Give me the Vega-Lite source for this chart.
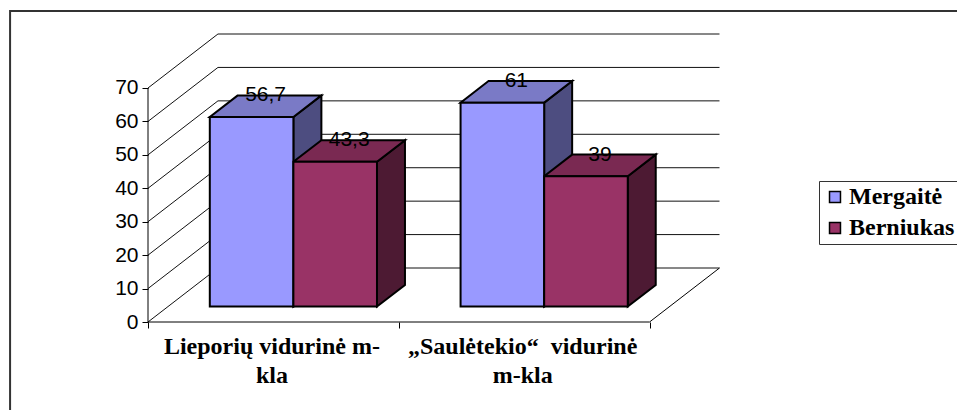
{"$schema":"https://vega.github.io/schema/vega-lite/v6.json","width":572,"height":288,"autosize":"none","padding":{"left":148,"right":237,"top":34,"bottom":88},"background":"white","config":{"view":{"stroke":null}},"datasets":{"bars":[{"school":"Lieporių vidurinė m-kla","gender":"Mergaitė","value":56.7},{"school":"Lieporių vidurinė m-kla","gender":"Berniukas","value":43.3},{"school":"„Saulėtekio“ vidurinė m-kla","gender":"Mergaitė","value":61},{"school":"„Saulėtekio“ vidurinė m-kla","gender":"Berniukas","value":39}],"ticks":[{"tick":0},{"tick":10},{"tick":20},{"tick":30},{"tick":40},{"tick":50},{"tick":60},{"tick":70}]},"data":{"name":"bars"},"transform":[{"calculate":"0.286","as":"near"},{"calculate":"0.686","as":"far"},{"fold":["near","far"],"as":["face","z"]},{"calculate":"(indexof(datum.school,'Lieporių')===0?0:1)+1/6+(datum.gender==='Mergaitė'?0:1)/3+datum.z*0.279","as":"x0"},{"calculate":"datum.x0+1/3","as":"x1"},{"calculate":"datum.z*16.15","as":"yb"},{"calculate":"datum.value+datum.z*16.15","as":"yt"},{"calculate":"datum.school+datum.gender","as":"bar"},{"calculate":"replace(''+datum.value,'.',',')","as":"label"}],"layer":[{"data":{"values":[{"frame":"outer"}]},"transform":[],"mark":{"type":"rect","fill":null,"stroke":"#333333","strokeWidth":2},"encoding":{"x":{"datum":-0.55,"type":"quantitative"},"x2":{"datum":3.3},"y":{"datum":93,"type":"quantitative"},"y2":{"datum":-30}}},{"data":{"name":"ticks"},"transform":[{"calculate":"0","as":"a"},{"calculate":"0.279","as":"b"},{"calculate":"2.279","as":"c"},{"calculate":"datum.tick+16.15","as":"back"}],"layer":[{"mark":{"type":"rule","color":"#111111","strokeWidth":1},"encoding":{"x":{"field":"a","type":"quantitative"},"x2":{"field":"b"},"y":{"field":"tick","type":"quantitative"},"y2":{"field":"back"}}},{"mark":{"type":"rule","color":"#111111","strokeWidth":1},"encoding":{"x":{"field":"b","type":"quantitative"},"x2":{"field":"c"},"y":{"field":"back","type":"quantitative"}}}]},{"data":{"values":[{"edge":"floor"}]},"transform":[],"layer":[{"mark":{"type":"rule","color":"black","strokeWidth":1},"encoding":{"x":{"datum":2,"type":"quantitative"},"x2":{"datum":2.279},"y":{"datum":0,"type":"quantitative"},"y2":{"datum":16.15}}},{"mark":{"type":"rule","color":"black","strokeWidth":1},"encoding":{"x":{"datum":0,"type":"quantitative"},"x2":{"datum":2},"y":{"datum":0,"type":"quantitative"}}},{"mark":{"type":"rule","color":"black","strokeWidth":1},"encoding":{"x":{"datum":0,"type":"quantitative"},"y":{"datum":0,"type":"quantitative"},"y2":{"datum":70}}}]},{"mark":{"type":"area","stroke":"black","strokeWidth":2},"encoding":{"x":{"field":"x1","type":"quantitative"},"y":{"field":"yt","type":"quantitative"},"y2":{"field":"yb"},"detail":{"field":"bar"},"fill":{"condition":{"test":"datum.gender==='Mergaitė'","value":"#4d4d80"},"value":"#4d1a33"}}},{"mark":{"type":"area","orient":"horizontal","stroke":"black","strokeWidth":2},"encoding":{"y":{"field":"yt","type":"quantitative"},"x":{"field":"x0","type":"quantitative"},"x2":{"field":"x1"},"detail":{"field":"bar"},"fill":{"condition":{"test":"datum.gender==='Mergaitė'","value":"#7a7ac6"},"value":"#7a2952"}}},{"transform":[{"filter":"datum.face==='near'"}],"mark":{"type":"rect","stroke":"black","strokeWidth":2},"encoding":{"x":{"field":"x0","type":"quantitative","title":null,"scale":{"domain":[0,2.281],"nice":false,"zero":false},"axis":{"values":[0,0.5,1,1.5,2],"domain":false,"grid":false,"tickSize":6,"tickColor":"black","tickOpacity":{"condition":{"test":"datum.value%1!==0","value":0},"value":1},"labelExpr":"datum.value===0.5?['Lieporių vidurinė m-','kla']:datum.value===1.5?['„Saulėtekio“\u00a0 vidurinė','m-kla']:''","labelFont":"Liberation Serif","labelFontWeight":"bold","labelFontSize":24,"labelColor":"black","labelPadding":6,"labelLineHeight":29,"labelOffset":-2,"labelLimit":400,"labelOverlap":false,"labelBound":false,"labelFlush":false}},"x2":{"field":"x1"},"y":{"field":"yt","type":"quantitative","title":null,"scale":{"domain":[0,86.15],"nice":false,"zero":false},"axis":{"values":[0,10,20,30,40,50,60,70],"domain":false,"grid":false,"tickSize":6,"tickColor":"black","labelFont":"Liberation Sans","labelFontSize":21,"labelColor":"black","labelPadding":4,"labelOverlap":false,"labelBound":false,"labelFlush":false}},"y2":{"field":"yb"},"fill":{"field":"gender","type":"nominal","title":null,"scale":{"domain":["Mergaitė","Berniukas"],"range":["#9999ff","#993366"]},"legend":{"orient":"none","legendX":671,"legendY":147,"strokeColor":"#333333","fillColor":"white","padding":4,"symbolType":"square","symbolSize":120,"symbolStrokeColor":"black","symbolStrokeWidth":1.5,"labelFont":"Liberation Serif","labelFontWeight":"bold","labelFontSize":24,"labelLimit":300,"labelColor":"black","rowPadding":7,"labelOffset":2}}}},{"transform":[{"filter":"datum.face==='far'"},{"calculate":"datum.x0+1/6-0.0558","as":"lx"}],"mark":{"type":"text","font":"Liberation Sans","fontSize":21,"color":"black"},"encoding":{"x":{"field":"lx","type":"quantitative"},"y":{"field":"yt","type":"quantitative"},"text":{"field":"label"}}}]}
